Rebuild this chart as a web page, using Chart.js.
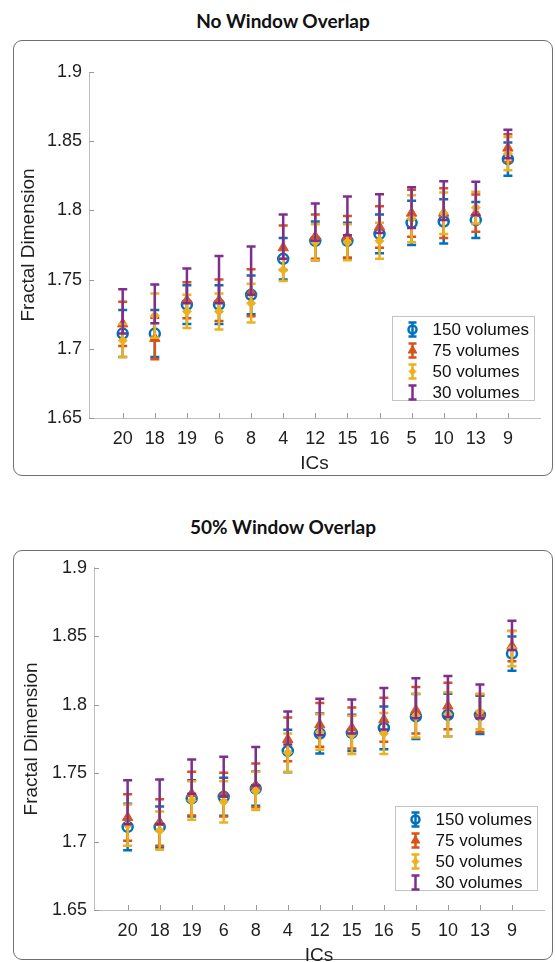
<!DOCTYPE html>
<html>
<head>
<meta charset="utf-8">
<script src="https://cdn.jsdelivr.net/npm/chart.js@4.4.1/dist/chart.umd.min.js"></script>
<style>
body { margin:0; width:555px; height:962px; background:#fff; position:relative; overflow:hidden; }
.titre { position:absolute; left:0; width:566px; height:22px; line-height:22px; text-align:center; font-family:Lato, "Open Sans", sans-serif; font-weight:bold; font-size:19px; color:#111; }
.cadre { position:absolute; left:13px; width:540px; box-sizing:border-box; border:1.5px solid #707070; border-radius:9px; }
canvas { position:absolute; left:13px; }
</style>
</head>
<body>
<div class="titre" style="top:10px">No Window Overlap</div>
<div class="cadre" style="top:40px;height:436px"></div>
<canvas id="graphique-sans" width="540" height="436" style="top:40px"></canvas>

<div class="titre" style="top:516px">50% Window Overlap</div>
<div class="cadre" style="top:550px;height:410px"></div>
<canvas id="graphique-avec" width="540" height="420" style="top:550px"></canvas>

<script>
// categories (ICs) in plotted order
const categories = ["20", "18", "19", "6", "8", "4", "12", "15", "16", "5", "10", "13", "9"];
const yTicks = [1.65, 1.7, 1.75, 1.8, 1.85, 1.9];
const yTickLabels = ["1.65", "1.7", "1.75", "1.8", "1.85", "1.9"];
const legendLabels = ["150 volumes", "75 volumes", "50 volumes", "30 volumes"];

// No Window Overlap
const sans150 = [1.711, 1.711, 1.732, 1.732, 1.739, 1.765, 1.778, 1.778, 1.783, 1.791, 1.792, 1.793, 1.837];
const sans150Err = [0.017, 0.017, 0.014, 0.014, 0.014, 0.015, 0.014, 0.013, 0.014, 0.016, 0.016, 0.013, 0.012];
const sans75 = [1.718, 1.7075, 1.735, 1.735, 1.7405, 1.773, 1.781, 1.781, 1.788, 1.798, 1.798, 1.798, 1.845];
const sans75Err = [0.016, 0.015, 0.013, 0.015, 0.017, 0.016, 0.016, 0.015, 0.015, 0.017, 0.018, 0.0135, 0.010];
const sans50 = [1.706, 1.724, 1.727, 1.727, 1.733, 1.757, 1.777, 1.777, 1.778, 1.794, 1.798, 1.802, 1.841];
const sans50Err = [0.012, 0.016, 0.012, 0.013, 0.014, 0.008, 0.013, 0.013, 0.013, 0.017, 0.015, 0.0115, 0.012];
const sans30 = [1.727, 1.7325, 1.7455, 1.750, 1.7565, 1.781, 1.7915, 1.796, 1.7976, 1.802, 1.807, 1.8087, 1.848];
const sans30Err = [0.016, 0.014, 0.0125, 0.017, 0.0175, 0.016, 0.0135, 0.014, 0.014, 0.0147, 0.014, 0.012, 0.0103];

// 50% Window Overlap
const avec150 = [1.7107, 1.7107, 1.7315, 1.7327, 1.7387, 1.7662, 1.7789, 1.7794, 1.783, 1.7914, 1.7925, 1.7925, 1.8373];
const avec150Err = [0.017, 0.015, 0.0132, 0.0139, 0.0125, 0.0155, 0.0146, 0.0132, 0.0156, 0.0164, 0.0155, 0.014, 0.0125];
const avec75 = [1.7176, 1.714, 1.735, 1.7343, 1.741, 1.7746, 1.7853, 1.783, 1.789, 1.796, 1.799, 1.7937, 1.8428];
const avec75Err = [0.017, 0.017, 0.016, 0.016, 0.016, 0.016, 0.016, 0.015, 0.016, 0.017, 0.017, 0.0137, 0.011];
const avec50 = [1.712, 1.708, 1.730, 1.729, 1.737, 1.765, 1.780, 1.778, 1.779, 1.792, 1.793, 1.795, 1.841];
const avec50Err = [0.015, 0.014, 0.014, 0.015, 0.014, 0.014, 0.013, 0.014, 0.015, 0.016, 0.016, 0.013, 0.013];
const avec30 = [1.7287, 1.729, 1.7475, 1.7475, 1.755, 1.783, 1.791, 1.7914, 1.797, 1.8047, 1.806, 1.8024, 1.8507];
const avec30Err = [0.016, 0.0164, 0.0125, 0.0145, 0.014, 0.012, 0.0133, 0.0124, 0.0152, 0.0147, 0.015, 0.0124, 0.0107];

const couleurs = ["#0072BD", "#D95319", "#EDB120", "#7E2F8E"];
const police = "'Liberation Sans', Arial, sans-serif";
const gris = "#1f1f1f";

const styles = [
    { pointStyle: "circle", pointRadius: 5, borderWidth: 2.5, fond: "rgba(0,0,0,0)" },
    { pointStyle: "triangle", pointRadius: 6, borderWidth: 1, fond: couleurs[1] },
    { pointStyle: "rectRot", pointRadius: 4.5, borderWidth: 1, fond: couleurs[2] },
    { pointStyle: "circle", pointRadius: 0, borderWidth: 0, fond: couleurs[3] }
];

function barre(ctx, px, haut, bas, demi) {
    ctx.beginPath();
    ctx.moveTo(px, haut); ctx.lineTo(px, bas);
    ctx.moveTo(px - demi, haut); ctx.lineTo(px + demi, haut);
    ctx.moveTo(px - demi, bas); ctx.lineTo(px + demi, bas);
    ctx.stroke();
}

const pluginBarres = {
    id: "barres",
    beforeDatasetDraw(chart, args) {
        const ds = chart.data.datasets[args.index];
        const x = chart.scales.x, y = chart.scales.y;
        const ctx = chart.ctx;
        ctx.save();
        ctx.strokeStyle = ds.borderColor;
        ctx.lineWidth = 2.5;
        ds.data.forEach((p, i) => {
            const e = ds.erreurs[i];
            barre(ctx, x.getPixelForValue(p.x), y.getPixelForValue(p.y + e), y.getPixelForValue(p.y - e), 4.5);
        });
        ctx.restore();
    },
    afterDraw(chart, args, opts) {
        const ctx = chart.ctx;
        const zone = chart.chartArea;
        const x = chart.scales.x, y = chart.scales.y;
        ctx.save();
        // petits traits vers l'intérieur
        ctx.strokeStyle = "#9a9a9a";
        ctx.lineWidth = 1;
        ctx.beginPath();
        x.ticks.forEach(t => {
            const px = Math.round(x.getPixelForValue(t.value)) + 0.5;
            ctx.moveTo(px, zone.bottom); ctx.lineTo(px, zone.bottom - 5);
        });
        y.ticks.forEach(t => {
            const py = Math.round(y.getPixelForValue(t.value)) + 0.5;
            ctx.moveTo(zone.left, py); ctx.lineTo(zone.left + 5, py);
        });
        ctx.stroke();

        // légende
        const largeur = 142, hauteur = 84;
        const gauche = Math.round(zone.right - opts.droite - largeur) + 0.5;
        const haut = Math.round(zone.bottom - opts.bas - hauteur) + 0.5;
        ctx.fillStyle = "#fff";
        ctx.fillRect(gauche, haut, largeur, hauteur);
        ctx.strokeStyle = "#c4c4c4";
        ctx.strokeRect(gauche, haut, largeur, hauteur);
        ctx.font = "17px " + police;
        ctx.textBaseline = "middle";
        ctx.textAlign = "left";
        chart.data.datasets.forEach((ds, i) => {
            const ly = haut + 13 + i * 21;
            const lx = gauche + 20;
            ctx.strokeStyle = ds.borderColor;
            ctx.lineWidth = 2.5;
            barre(ctx, lx, ly - 7, ly + 7, 4);
            if (ds.pointRadius > 0) {
                ctx.fillStyle = ds.backgroundColor;
                ctx.strokeStyle = ds.borderColor;
                ctx.lineWidth = ds.borderWidth;
                Chart.helpers.drawPoint(ctx, { pointStyle: ds.pointStyle, radius: ds.pointRadius - 1, rotation: 0, borderWidth: ds.borderWidth }, lx, ly);
            }
            ctx.fillStyle = "#111";
            ctx.fillText(ds.label, gauche + 40, ly + 1);
        });
        ctx.restore();
    }
};

function creerGraphique(id, moyennes, erreurs, reglages) {
    const datasets = moyennes.map((serie, k) => ({
        label: legendLabels[k],
        data: serie.map((v, i) => ({ x: i + 1, y: v })),
        erreurs: erreurs[k],
        borderColor: couleurs[k],
        backgroundColor: styles[k].fond,
        pointStyle: styles[k].pointStyle,
        pointRadius: styles[k].pointRadius,
        pointHoverRadius: styles[k].pointRadius,
        borderWidth: styles[k].borderWidth,
        order: 4 - k
    }));

    return new Chart(document.querySelector(id), {
        type: "scatter",
        data: { datasets: datasets },
        plugins: [pluginBarres],
        options: {
            responsive: false,
            animation: false,
            devicePixelRatio: 1,
            layout: { padding: { top: reglages.haut, right: reglages.droite, left: 0, bottom: 0 } },
            plugins: {
                legend: { display: false },
                tooltip: { enabled: false },
                barres: { droite: reglages.legDroite, bas: reglages.legBas }
            },
            scales: {
                x: {
                    type: "linear",
                    min: -0.05,
                    max: 14,
                    afterBuildTicks: s => { s.ticks = categories.map((c, i) => ({ value: i + 1 })); },
                    afterFit: s => { s.height = reglages.hauteurX; },
                    ticks: {
                        callback: (v, i) => categories[i],
                        autoSkip: false,
                        maxRotation: 0,
                        padding: 10,
                        color: gris,
                        font: { family: police, size: 18 }
                    },
                    grid: { display: false, drawTicks: false },
                    border: { display: true, color: "#bdbdbd", width: 1 },
                    title: {
                        display: true, text: "ICs", color: gris,
                        font: { family: police, size: 19 },
                        padding: { top: 0, bottom: reglages.titreX }
                    }
                },
                y: {
                    min: 1.65,
                    max: 1.9,
                    afterBuildTicks: s => { s.ticks = yTicks.map(v => ({ value: v })); },
                    afterFit: s => { s.width = reglages.largeurY; },
                    ticks: {
                        callback: (v, i) => yTickLabels[i],
                        padding: 7,
                        color: gris,
                        font: { family: police, size: 18 }
                    },
                    grid: { display: false, drawTicks: false },
                    border: { display: true, color: "#bdbdbd", width: 1 },
                    title: {
                        display: true, text: "Fractal Dimension", color: gris,
                        font: { family: police, size: 19 },
                        padding: { top: reglages.titreY, bottom: 0 }
                    }
                }
            }
        }
    });
}

creerGraphique("#graphique-sans",
    [sans150, sans75, sans50, sans30],
    [sans150Err, sans75Err, sans50Err, sans30Err],
    { haut: 32, droite: 13, hauteurX: 58, largeurY: 76, titreX: 1, titreY: 4, legDroite: 6, legBas: 18 });

creerGraphique("#graphique-avec",
    [avec150, avec75, avec50, avec30],
    [avec150Err, avec75Err, avec50Err, avec30Err],
    { haut: 12, droite: 9, hauteurX: 60, largeurY: 81, titreX: 3, titreY: 7, legDroite: 7, legBas: 20 });
</script>
</body>
</html>
